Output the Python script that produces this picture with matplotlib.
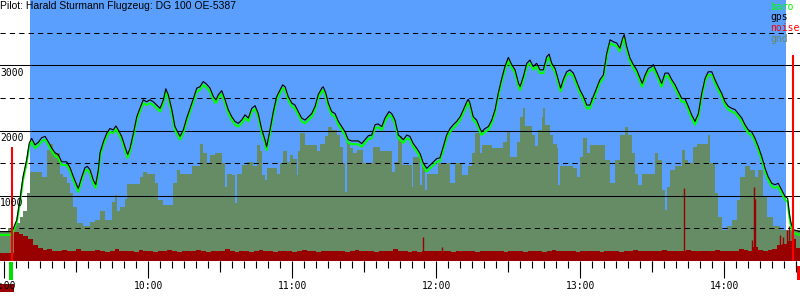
import matplotlib
matplotlib.use("Agg")
import matplotlib.pyplot as plt
from matplotlib.transforms import blended_transform_factory
from matplotlib.patches import Rectangle

# ---------------- data (time in minutes after 9:00, altitude in ft) ----------------
title = "Pilot: Harald Sturmann Flugzeug: DG 100 OE-5387"

trace_t = [
    -1.8, 3.2, 5.2, 6.5, 7.8, 9.3, 10.4, 11.4, 12.8, 14.2,
    15.6, 17.0, 18.3, 19.8, 21.1, 22.5, 23.9, 26.0, 27.4, 28.8,
    30.8, 32.3, 33.6, 34.6, 35.7, 37.1, 38.1, 39.2, 39.9, 41.3,
    42.7, 44.0, 45.4, 46.5, 47.5, 48.9, 50.3, 51.4, 52.4, 53.8,
    55.2, 56.5, 57.9, 59.3, 60.7, 62.1, 63.5, 64.9, 66.3, 67.3,
    68.3, 69.8, 71.1, 73.2, 74.6, 76.0, 77.4, 78.8, 80.2, 81.5,
    82.9, 84.3, 85.7, 87.1, 88.2, 89.2, 90.6, 92.0, 93.3, 94.8,
    96.1, 97.5, 98.9, 100.3, 101.7, 103.1, 104.5, 105.8, 107.3, 108.6,
    109.3, 110.7, 112.1, 113.5, 114.9, 116.0, 117.0, 118.3, 119.8, 121.1,
    122.5, 123.9, 125.3, 126.7, 128.1, 129.5, 130.8, 132.3, 132.9, 134.0,
    135.0, 136.4, 137.8, 139.2, 140.6, 142.0, 143.3, 144.8, 146.1, 147.5,
    148.9, 150.3, 151.7, 153.1, 154.5, 155.8, 157.3, 158.6, 160.3, 161.4,
    162.8, 164.2, 164.9, 166.3, 167.7, 169.0, 170.4, 171.8, 173.2, 174.6,
    176.0, 177.4, 178.8, 180.2, 181.5, 182.9, 184.3, 185.7, 187.1, 188.5,
    189.9, 191.3, 192.7, 193.3, 194.0, 195.4, 196.8, 198.2, 198.9, 200.3,
    201.7, 203.1, 204.5, 205.8, 207.3, 208.6, 210.0, 211.4, 212.8, 214.3,
    214.9, 216.3, 217.7, 219.0, 220.4, 221.8, 223.2, 224.6, 226.0, 227.0,
    228.1, 229.5, 230.8, 231.8, 232.9, 234.3, 235.7, 237.1, 238.5, 239.9,
    241.3, 242.7, 244.0, 245.4, 246.8, 248.2, 249.6, 251.0, 252.4, 253.8,
    255.2, 256.5, 257.6, 258.3, 259.3, 260.7, 262.1, 263.5, 264.9, 265.8,
    267.0, 268.3, 269.8, 270.4, 271.8, 273.2, 273.9, 275.3, 276.7, 278.1,
    279.5, 280.8, 282.3, 283.6, 285.0, 286.4, 287.8, 289.2, 290.6, 292.0,
    293.3, 294.8, 296.1, 297.5, 298.9, 300.3, 301.7, 303.1, 304.5, 305.8,
    307.3, 308.6, 310.0, 311.4, 312.8, 314.2, 315.6, 317.0, 318.3, 319.8,
    321.1, 322.5, 323.9, 325.3, 326.4, 327.1, 327.8, 328.8, 331.5,
]

gps = [
    450, 450, 630, 940, 1290, 1550, 1810, 1880, 1780, 1820,
    1890, 1910, 1830, 1730, 1660, 1630, 1520, 1520, 1430, 1290,
    1110, 1290, 1430, 1450, 1400, 1240, 1170, 1400, 1660, 1830,
    1960, 2030, 2010, 2070, 2010, 1910, 1750, 1630, 1730, 1960,
    2210, 2340, 2470, 2440, 2470, 2440, 2390, 2340, 2470, 2640,
    2550, 2320, 2060, 1910, 2010, 2190, 2340, 2490, 2650, 2670,
    2750, 2710, 2650, 2520, 2470, 2550, 2610, 2470, 2320, 2210,
    2140, 2110, 2160, 2240, 2190, 2340, 2380, 2260, 2010, 1860,
    1750, 2010, 2290, 2520, 2620, 2700, 2670, 2520, 2420, 2390,
    2290, 2190, 2160, 2210, 2260, 2370, 2550, 2650, 2670, 2570,
    2420, 2290, 2260, 2140, 2060, 1980, 1860, 1840, 1840, 1840,
    1800, 1860, 1920, 1930, 2090, 2100, 2060, 2190, 2290, 2260,
    2160, 1930, 1910, 1860, 1930, 1910, 1800, 1730, 1650, 1500,
    1420, 1470, 1520, 1570, 1580, 1750, 1930, 2030, 2090, 2140,
    2210, 2320, 2440, 2480, 2420, 2210, 2160, 2030, 1980, 2030,
    2060, 2160, 2320, 2570, 2800, 2980, 3120, 3010, 2930, 2720,
    2670, 2830, 3030, 3080, 2980, 3030, 2930, 2930, 3130, 3170,
    3030, 2950, 2780, 2650, 2780, 2900, 2930, 2880, 2750, 2620,
    2520, 2390, 2390, 2520, 2650, 2780, 2850, 3180, 3390, 3360,
    3340, 3260, 3410, 3470, 3290, 3110, 3010, 2930, 2800, 2720,
    2850, 2950, 2980, 3010, 2900, 2780, 2720, 2880, 2880, 2780,
    2700, 2600, 2490, 2490, 2370, 2240, 2140, 2260, 2570, 2800,
    2900, 2900, 2780, 2670, 2570, 2440, 2370, 2340, 2320, 2260,
    2190, 2090, 2010, 1980, 1880, 1750, 1600, 1420, 1290, 1190,
    1170, 1190, 1090, 990, 960, 730, 580, 480, 450,
]

baro = [
    400, 400, 590, 890, 1240, 1500, 1760, 1830, 1730, 1770,
    1840, 1860, 1780, 1680, 1610, 1580, 1470, 1470, 1380, 1240,
    1060, 1240, 1380, 1400, 1350, 1190, 1120, 1350, 1610, 1780,
    1910, 1980, 1960, 2020, 1960, 1860, 1700, 1580, 1680, 1910,
    2160, 2290, 2420, 2390, 2420, 2390, 2340, 2290, 2420, 2590,
    2500, 2270, 2010, 1860, 1960, 2140, 2290, 2440, 2600, 2620,
    2700, 2660, 2600, 2470, 2420, 2500, 2560, 2420, 2270, 2160,
    2090, 2060, 2110, 2190, 2140, 2290, 2330, 2210, 1960, 1810,
    1700, 1960, 2240, 2470, 2570, 2650, 2620, 2470, 2370, 2340,
    2240, 2140, 2110, 2160, 2210, 2320, 2500, 2600, 2620, 2520,
    2370, 2240, 2210, 2090, 2010, 1930, 1810, 1790, 1790, 1790,
    1750, 1810, 1870, 1880, 2040, 2050, 2010, 2140, 2240, 2210,
    2110, 1880, 1860, 1810, 1880, 1860, 1750, 1680, 1600, 1450,
    1370, 1420, 1470, 1520, 1530, 1700, 1880, 1980, 2040, 2090,
    2160, 2270, 2390, 2430, 2370, 2160, 2110, 1980, 1930, 1980,
    2010, 2110, 2270, 2520, 2750, 2930, 3070, 2960, 2880, 2670,
    2620, 2780, 2980, 3030, 2930, 2980, 2880, 2880, 3080, 3120,
    2980, 2900, 2730, 2600, 2730, 2850, 2880, 2830, 2700, 2570,
    2470, 2340, 2340, 2470, 2600, 2730, 2800, 3130, 3340, 3310,
    3290, 3210, 3360, 3420, 3240, 3060, 2960, 2880, 2750, 2670,
    2800, 2900, 2930, 2960, 2850, 2730, 2670, 2830, 2830, 2730,
    2650, 2550, 2440, 2440, 2320, 2190, 2090, 2210, 2520, 2750,
    2850, 2850, 2730, 2620, 2520, 2390, 2320, 2290, 2270, 2210,
    2140, 2040, 1960, 1930, 1830, 1700, 1550, 1370, 1240, 1140,
    1120, 1140, 1040, 940, 910, 680, 530, 430, 400,
]

gnd_t = [
    -1.8, 1.7, 4.5, 6.5, 7.9, 9.3, 10.7, 15.6, 17.7, 19.0,
    20.4, 23.2, 24.6, 26.0, 27.4, 28.8, 30.4, 32.9, 35.7, 37.8,
    39.9, 42.0, 44.8, 46.1, 46.8, 48.2, 50.3, 51.0, 56.5, 57.9,
    59.3, 62.8, 64.2, 66.3, 70.4, 71.8, 73.2, 78.1, 81.5, 82.9,
    84.3, 85.7, 87.8, 90.6, 92.0, 92.7, 94.8, 96.1, 96.8, 98.9,
    101.0, 103.8, 105.2, 106.5, 107.3, 108.6, 109.3, 113.5, 114.9, 116.3,
    117.7, 119.0, 120.4, 121.8, 122.5, 123.2, 125.3, 130.2, 131.5, 133.6,
    135.0, 136.4, 138.5, 139.9, 141.3, 142.0, 142.7, 144.0, 145.4, 146.8,
    149.6, 153.8, 156.5, 161.4, 162.8, 164.2, 164.9, 165.6, 169.8, 170.4,
    173.2, 173.9, 175.3, 176.0, 180.8, 185.7, 187.8, 190.6, 193.3, 194.8,
    196.1, 198.2, 198.9, 203.1, 207.9, 209.3, 210.7, 213.5, 214.9, 216.3,
    217.0, 219.8, 221.1, 222.5, 223.9, 224.6, 225.3, 227.4, 228.8, 230.2,
    230.8, 231.5, 237.1, 238.5, 239.9, 241.3, 242.7, 244.0, 250.3, 252.4,
    254.5, 256.5, 258.6, 260.0, 261.4, 262.8, 264.2, 265.6, 271.1, 272.5,
    273.9, 275.3, 276.0, 277.4, 279.5, 282.3, 283.6, 285.0, 287.1, 288.5,
    293.3, 294.0, 296.1, 297.5, 298.9, 301.0, 303.1, 305.2, 306.5, 308.6,
    310.7, 312.8, 314.2, 316.3, 317.7, 320.4, 323.2, 331.6,
]
gnd_ft = [
    460, 500, 580, 680, 760, 1040, 1370, 1290, 1700, 1800,
    1660, 1340, 1290, 1190, 1040, 830, 580, 530, 600, 630,
    760, 630, 910, 1010, 760, 830, 950, 1180, 1290, 1370,
    1340, 1190, 940, 860, 1190, 1400, 1340, 1450, 1790, 1650,
    1500, 1630, 1650, 1500, 1140, 1340, 1320, 890, 1340, 1470,
    1520, 1450, 1780, 1680, 1320, 1240, 1420, 1340, 1500, 1680,
    1520, 1630, 1570, 1320, 1680, 1960, 1780, 1680, 1800, 1910,
    2060, 2010, 1930, 1750, 1500, 1060, 1830, 1730, 1650, 1700,
    1500, 1750, 1690, 1370, 1520, 1860, 1910, 1470, 1140, 1600,
    1170, 1500, 1090, 1340, 1500, 1190, 1500, 1320, 1450, 1650,
    1960, 1650, 1780, 1730, 1830, 1980, 1600, 1830, 2210, 2340,
    2070, 1930, 1760, 2010, 2210, 2340, 2090, 1930, 1800, 1730,
    1170, 1450, 1420, 1290, 1600, 1880, 1650, 1780, 1550, 1190,
    1550, 1930, 2060, 1930, 1650, 1340, 1170, 1340, 1650, 1550,
    1090, 780, 1140, 1400, 1450, 1700, 1550, 1500, 1750, 1800,
    1930, 1500, 1040, 680, 480, 530, 630, 940, 1290, 1450,
    1400, 1290, 1400, 990, 680, 530, 480, 450,
]

noise_t0 = -2      # first noise sample (minutes)
noise_dt = 2       # noise sample interval (minutes)
noise = [
    130, 130, 130, 440, 420, 380, 330, 250, 200, 170,
    180, 160, 150, 170, 150, 160, 190, 150, 160, 150,
    170, 150, 140, 160, 180, 150, 160, 150, 140, 170,
    160, 150, 140, 160, 150, 170, 150, 140, 160, 150,
    150, 170, 160, 140, 150, 160, 150, 180, 150, 140,
    150, 160, 140, 150, 170, 150, 160, 140, 150, 160,
    150, 140, 160, 170, 150, 150, 140, 160, 150, 150,
    160, 150, 140, 150, 170, 150, 160, 150, 140, 150,
    150, 160, 180, 160, 150, 140, 150, 140, 150, 150,
    150, 150, 160, 150, 140, 150, 150, 160, 150, 140,
    150, 150, 160, 150, 150, 140, 160, 150, 150, 140,
    160, 150, 150, 140, 150, 170, 160, 150, 150, 150,
    140, 150, 160, 150, 150, 140, 150, 160, 150, 140,
    150, 160, 170, 150, 150, 160, 150, 150, 170, 160,
    150, 160, 150, 170, 160, 150, 150, 150, 160, 170,
    160, 150, 150, 160, 180, 170, 160, 210, 170, 160,
    170, 190, 250, 260, 300, 330, 200, 130,
]
spike_t = [174.5, 182.4, 283.2, 311.5, 312.2, 312.6, 323.2, 324.3, 326.0, 327.0, 328.0]
spike_v = [370, 210, 1120, 320, 1130, 950, 400, 370, 480, 530, 440]

marker_t = [3.1, 328.8]       # bright red vertical markers
marker_v = [1750, 3160]
takeoff_t = 2.8
landing_t = 330.8
sky_t = [10.7, 325.7]         # blue sky band (flight window)

hour_ticks = [0, 60, 120, 180, 240, 300]
hour_labels = ["9:00", "10:00", "11:00", "12:00", "13:00", "14:00"]
half_ticks = [30, 90, 150, 210, 270, 330]
minor_ticks = list(range(0, 335, 5))
solid_levels = [1000, 2000, 3000]
dashed_levels = [500, 1500, 2500, 3500]
ylabels = [1000, 2000, 3000]
legend_items = [("baro", "#00ff00"), ("gps", "#000000"), ("noise", "#ff0000"), ("gnd", "#668866")]

# ---------------- styling ----------------
SKY = "#5a9ffd"
GND = "#668c66"
NOISE = "#990000"
MONO = "DejaVu Sans Mono"

fig = plt.figure(figsize=(8, 3), dpi=100)
fig.patch.set_facecolor("white")
ax = fig.add_axes([0, 39 / 300, 1, 261 / 300])
ax.set_facecolor("none")
ax.set_xlim(-1.79, 331.54)
ax.set_ylim(0, 4000)
for s in ax.spines.values():
    s.set_visible(False)

ax.axvspan(sky_t[0], sky_t[1], color=SKY, lw=0, zorder=0)
ax.fill_between(gnd_t, gnd_ft, step="post", color=GND, lw=0, zorder=1)
noise_times = [noise_t0 + i * noise_dt for i in range(len(noise))]
ax.fill_between(noise_times, noise, step="post", color=NOISE, lw=0, zorder=2)
ax.vlines(spike_t, 0, spike_v, color=NOISE, lw=1.0, zorder=2)

for v in solid_levels:
    ax.axhline(v, color="black", lw=0.75, zorder=3)
for v in dashed_levels:
    ax.axhline(v, color="black", lw=0.75, ls=(0, (5, 4)), zorder=3)

ax.plot(trace_t, baro, color="#00ff00", lw=1.5, zorder=4)
ax.plot(trace_t, gps, color="black", lw=0.8, zorder=5)
ax.vlines(marker_t, 0, marker_v, color="#ff0000", lw=1.5, zorder=6)

# y labels (below their grid line, at the left edge)
btf = blended_transform_factory(ax.transAxes, ax.transData)
for v in ylabels:
    ax.text(0.0, v - 40, str(v), transform=btf, ha="left", va="top",
            fontsize=7, family=MONO, zorder=7)

# ticks
ax.set_yticks([])
ax.set_xticks(hour_ticks)
ax.set_xticklabels(hour_labels, family=MONO, fontsize=7)
ax.set_xticks(minor_ticks, minor=True)
ax.tick_params(axis="x", which="major", length=12.5, width=0.8, pad=2, color="black")
ax.tick_params(axis="x", which="minor", length=4.8, width=0.8, color="black")
sec = ax.secondary_xaxis("bottom")
sec.set_xticks(half_ticks)
sec.tick_params(axis="x", length=8.2, width=0.8, labelbottom=False)
for s in sec.spines.values():
    s.set_visible(False)

# take-off / landing marks below the axis
btx = blended_transform_factory(ax.transData, ax.transAxes)
ax.add_patch(Rectangle((takeoff_t - 0.7, -0.073), 1.4, 0.069, transform=btx,
                       color="#00dd00", lw=0, clip_on=False))
ax.add_patch(Rectangle((landing_t - 0.6, -0.073), 1.2, 0.054, transform=btx,
                       color="#ff0000", lw=0, clip_on=False))
fig.patches.append(Rectangle((0, 8 / 300), 14 / 800, 8 / 300, transform=fig.transFigure,
                             color=NOISE, lw=0, zorder=-1))

# title and legend
fig.text(0.0, 1 - 1 / 300, title, ha="left", va="top", fontsize=7.5, family="Liberation Sans")
for i, (name, col) in enumerate(legend_items):
    fig.text(770 / 800, 1 - (2 + 10.5 * i) / 300, name, ha="left", va="top",
             fontsize=7, family=MONO, color=col)

fig.savefig("out.png", dpi=100, facecolor="white")
